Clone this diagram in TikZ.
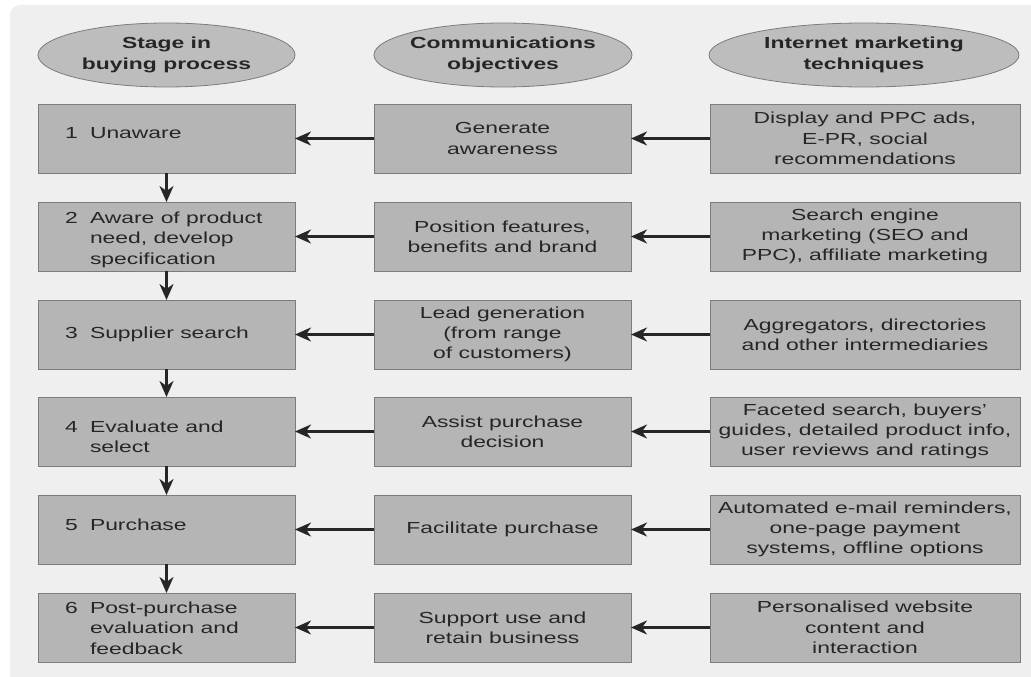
\documentclass[tikz,border=0pt]{standalone}
\usepackage{fontspec}
\setmainfont{Liberation Sans}[FakeStretch=1.43]
\usetikzlibrary{arrows.meta,shapes.geometric}

\definecolor{panel}{HTML}{EFEFEF}
\definecolor{boxfill}{HTML}{B5B5B5}
\definecolor{ellfill}{HTML}{BDBDBD}
\definecolor{edge}{HTML}{7C7C7C}
\definecolor{ink}{HTML}{262626}

\begin{document}
\begin{tikzpicture}[x=1pt,y=-1pt,
  every node/.style={inner sep=0pt, outer sep=0pt, text=ink},
  txt/.style={font=\fontsize{16}{20.3}\selectfont},
  header/.style={ellipse, draw=edge, fill=ellfill, line width=0.8pt,
    minimum height=64pt, inner xsep=-10pt, align=center,
    font=\fontsize{16}{20.3}\selectfont\bfseries},
  cell/.style={draw=edge, fill=boxfill, line width=0.8pt, minimum height=69pt,
    anchor=north west, align=center, txt},
  stagecell/.style={cell, minimum width=257pt},
  objcell/.style={cell, minimum width=257pt},
  techcell/.style={cell, minimum width=310pt},
  stagenum/.style={anchor=north west, txt},
  stagetext/.style={anchor=north west, align=left, txt},
  flow/.style={draw=ink, line width=2.6pt,
    -{Stealth[length=16pt,width=14pt,inset=5pt]}}
]
\useasboundingbox (0,0) rectangle (1031,677);
\fill[white] (0,0) rectangle (1031,677);
\fill[panel, rounded corners=10pt] (10,5) rectangle (1060,700);

% column headings
\node[header, minimum width=257pt] (h1) at (166.5,55) {Stage in\\buying process};
\node[header, minimum width=258pt] (h2) at (503,55) {Communications\\objectives};
\node[header, minimum width=310pt] (h3) at (864,55) {Internet marketing\\techniques};

% row 1
\node[stagecell] (s1) at (38,104) {};
\node[objcell] (o1) at (374,104) {Generate\\awareness};
\node[techcell] (t1) at (710,104) {Display and PPC ads,\\E-PR, social\\recommendations};
\node[stagenum] (n1) at (65,127) {1};
\node[stagetext] (l1) at (90,127) {Unaware};

% row 2
\node[stagecell] (s2) at (38,202) {};
\node[objcell] (o2) at (374,202) {Position features,\\benefits and brand};
\node[techcell] (t2) at (710,202) {Search engine\\marketing (SEO and\\PPC), affiliate marketing};
\node[stagenum] (n2) at (65,212) {2};
\node[stagetext] (l2) at (90,212) {Aware of product\\need, develop\\specification};

% row 3
\node[stagecell] (s3) at (38,300) {};
\node[objcell] (o3) at (374,300) {Lead generation\\(from range\\of customers)};
\node[techcell] (t3) at (710,300) {Aggregators, directories\\and other intermediaries};
\node[stagenum] (n3) at (65,327) {3};
\node[stagetext] (l3) at (90,327) {Supplier search};

% row 4
\node[stagecell] (s4) at (38,397) {};
\node[objcell] (o4) at (374,397) {Assist purchase\\decision};
\node[techcell] (t4) at (710,397) {Faceted search, buyers'\\guides, detailed product info,\\user reviews and ratings};
\node[stagenum] (n4) at (65,421) {4};
\node[stagetext] (l4) at (90,421) {Evaluate and\\select};

% row 5
\node[stagecell] (s5) at (38,495) {};
\node[objcell] (o5) at (374,495) {Facilitate purchase};
\node[techcell] (t5) at (710,495) {Automated e-mail reminders,\\one-page payment\\systems, offline options};
\node[stagenum] (n5) at (65,519) {5};
\node[stagetext] (l5) at (90,519) {Purchase};

% row 6
\node[stagecell] (s6) at (38,593) {};
\node[objcell] (o6) at (374,593) {Support use and\\retain business};
\node[techcell] (t6) at (710,593) {Personalised website\\content and\\interaction};
\node[stagenum] (n6) at (65,602) {6};
\node[stagetext] (l6) at (90,602) {Post-purchase\\evaluation and\\feedback};

% techniques feed objectives, objectives feed stages
\foreach \i in {1,...,6} {
  \draw[flow] (t\i.west) -- (o\i.east);
  \draw[flow] (o\i.west) -- (s\i.east);
}
% progression through the buying process
\foreach \i/\j in {1/2,2/3,3/4,4/5,5/6} {
  \draw[flow] (s\i.south) -- (s\j.north);
}
\end{tikzpicture}
\end{document}
